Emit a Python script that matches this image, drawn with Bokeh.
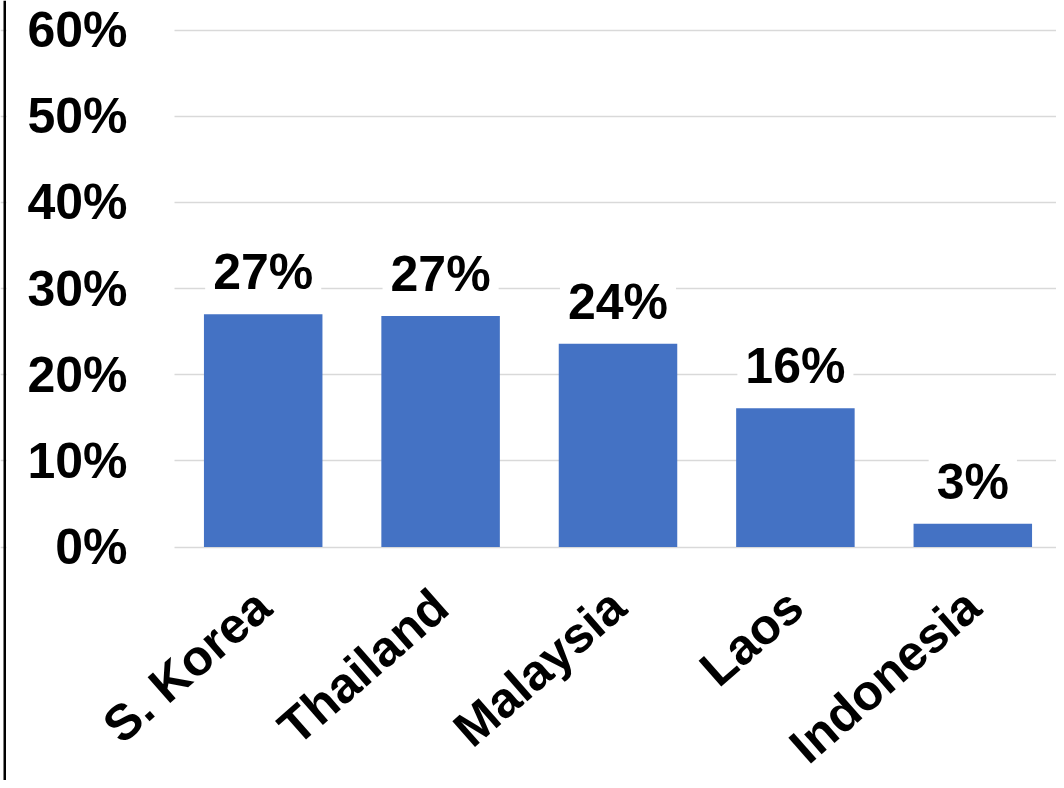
from bokeh.plotting import figure
from bokeh.models import (FixedTicker, ColumnDataSource, Range1d, LinearAxis,
                          BoxAnnotation)
from bokeh.core.properties import value
from bokeh.embed import file_html
from bokeh.resources import INLINE

countries = ["S. Korea", "Thailand", "Malaysia", "Laos", "Indonesia"]
shares = [27.0, 26.8, 23.6, 16.1, 2.7]
y_ticks = [0, 10, 20, 30, 40, 50, 60]
y_tick_labels = ["0%", "10%", "20%", "30%", "40%", "50%", "60%"]
bar_labels = [f"{round(v)}%" for v in shares]

FONT = "Liberation Sans"
BLUE = "#4472C4"
FS = "50px"

# layout (pixels)
W, H = 1056, 780
PLOT_L, PLOT_R, PLOT_T, PLOT_B = 174, 1061, 29.5, 546.5
YMAX = 60
n = len(countries)
cat_px = (PLOT_R - PLOT_L) / n
ppu = (PLOT_B - PLOT_T) / YMAX

xs = [i + 0.5 for i in range(n)]
src = ColumnDataSource(dict(x=xs, top=shares, label=bar_labels))

p = figure(
    x_range=Range1d(-PLOT_L / cat_px, n + (W - PLOT_R) / cat_px),
    y_range=Range1d(-(H - PLOT_B) / ppu, YMAX + PLOT_T / ppu),
    width=W, height=H,
    output_backend="svg", toolbar_location=None,
    x_axis_location=None, y_axis_location=None,
    min_border_left=0, min_border_right=0, min_border_top=0, min_border_bottom=0,
)
p.outline_line_color = None
p.background_fill_color = "white"
p.border_fill_color = "white"

p.xgrid.grid_line_color = None
p.ygrid.ticker = FixedTicker(ticks=y_ticks)
p.ygrid.grid_line_color = "#d9d9d9"
p.ygrid.grid_line_width = 1.5

# white mask so gridlines start at the plot area's left edge
mask = BoxAnnotation(left=6, right=PLOT_L, top=0, bottom=H,
                     left_units="canvas", right_units="canvas",
                     top_units="canvas", bottom_units="canvas",
                     fill_color="white", fill_alpha=1.0, line_color=None,
                     level="underlay")
p.add_layout(mask)

p.vbar(x="x", top="top", bottom=0, width=0.668, source=src, color=BLUE, line_color=None)

p.text(x="x", y="top", text="label", source=src,
       text_font=value(FONT), text_font_style="bold", text_font_size=FS,
       text_align="center", text_baseline="middle", y_offset=-42,
       background_fill_color="white", padding=8, text_color="black")

yaxis = LinearAxis(fixed_location=0, ticker=FixedTicker(ticks=y_ticks),
                   major_label_overrides={t: l for t, l in zip(y_ticks, y_tick_labels)})
xaxis = LinearAxis(fixed_location=0, ticker=FixedTicker(ticks=xs),
                   major_label_overrides={x: c for x, c in zip(xs, countries)})
for ax in (xaxis, yaxis):
    ax.axis_line_color = None
    ax.major_tick_line_color = None
    ax.minor_tick_line_color = None
    ax.major_tick_out = 0
    ax.major_tick_in = 0
    ax.major_label_text_font = FONT
    ax.major_label_text_font_style = "bold"
    ax.major_label_text_font_size = FS
    ax.major_label_text_color = "black"
yaxis.major_label_standoff = 47
xaxis.major_label_orientation = 0.72
xaxis.major_label_standoff = 52
p.add_layout(yaxis, "left")
p.add_layout(xaxis, "below")

# thin black edge line at the far left of the picture
edge = BoxAnnotation(left=3, right=5.5, top=0, bottom=H,
                     left_units="canvas", right_units="canvas",
                     top_units="canvas", bottom_units="canvas",
                     fill_color="black", fill_alpha=1.0, line_color=None)
p.add_layout(edge)

open("out.html", "w").write(file_html(p, INLINE))
